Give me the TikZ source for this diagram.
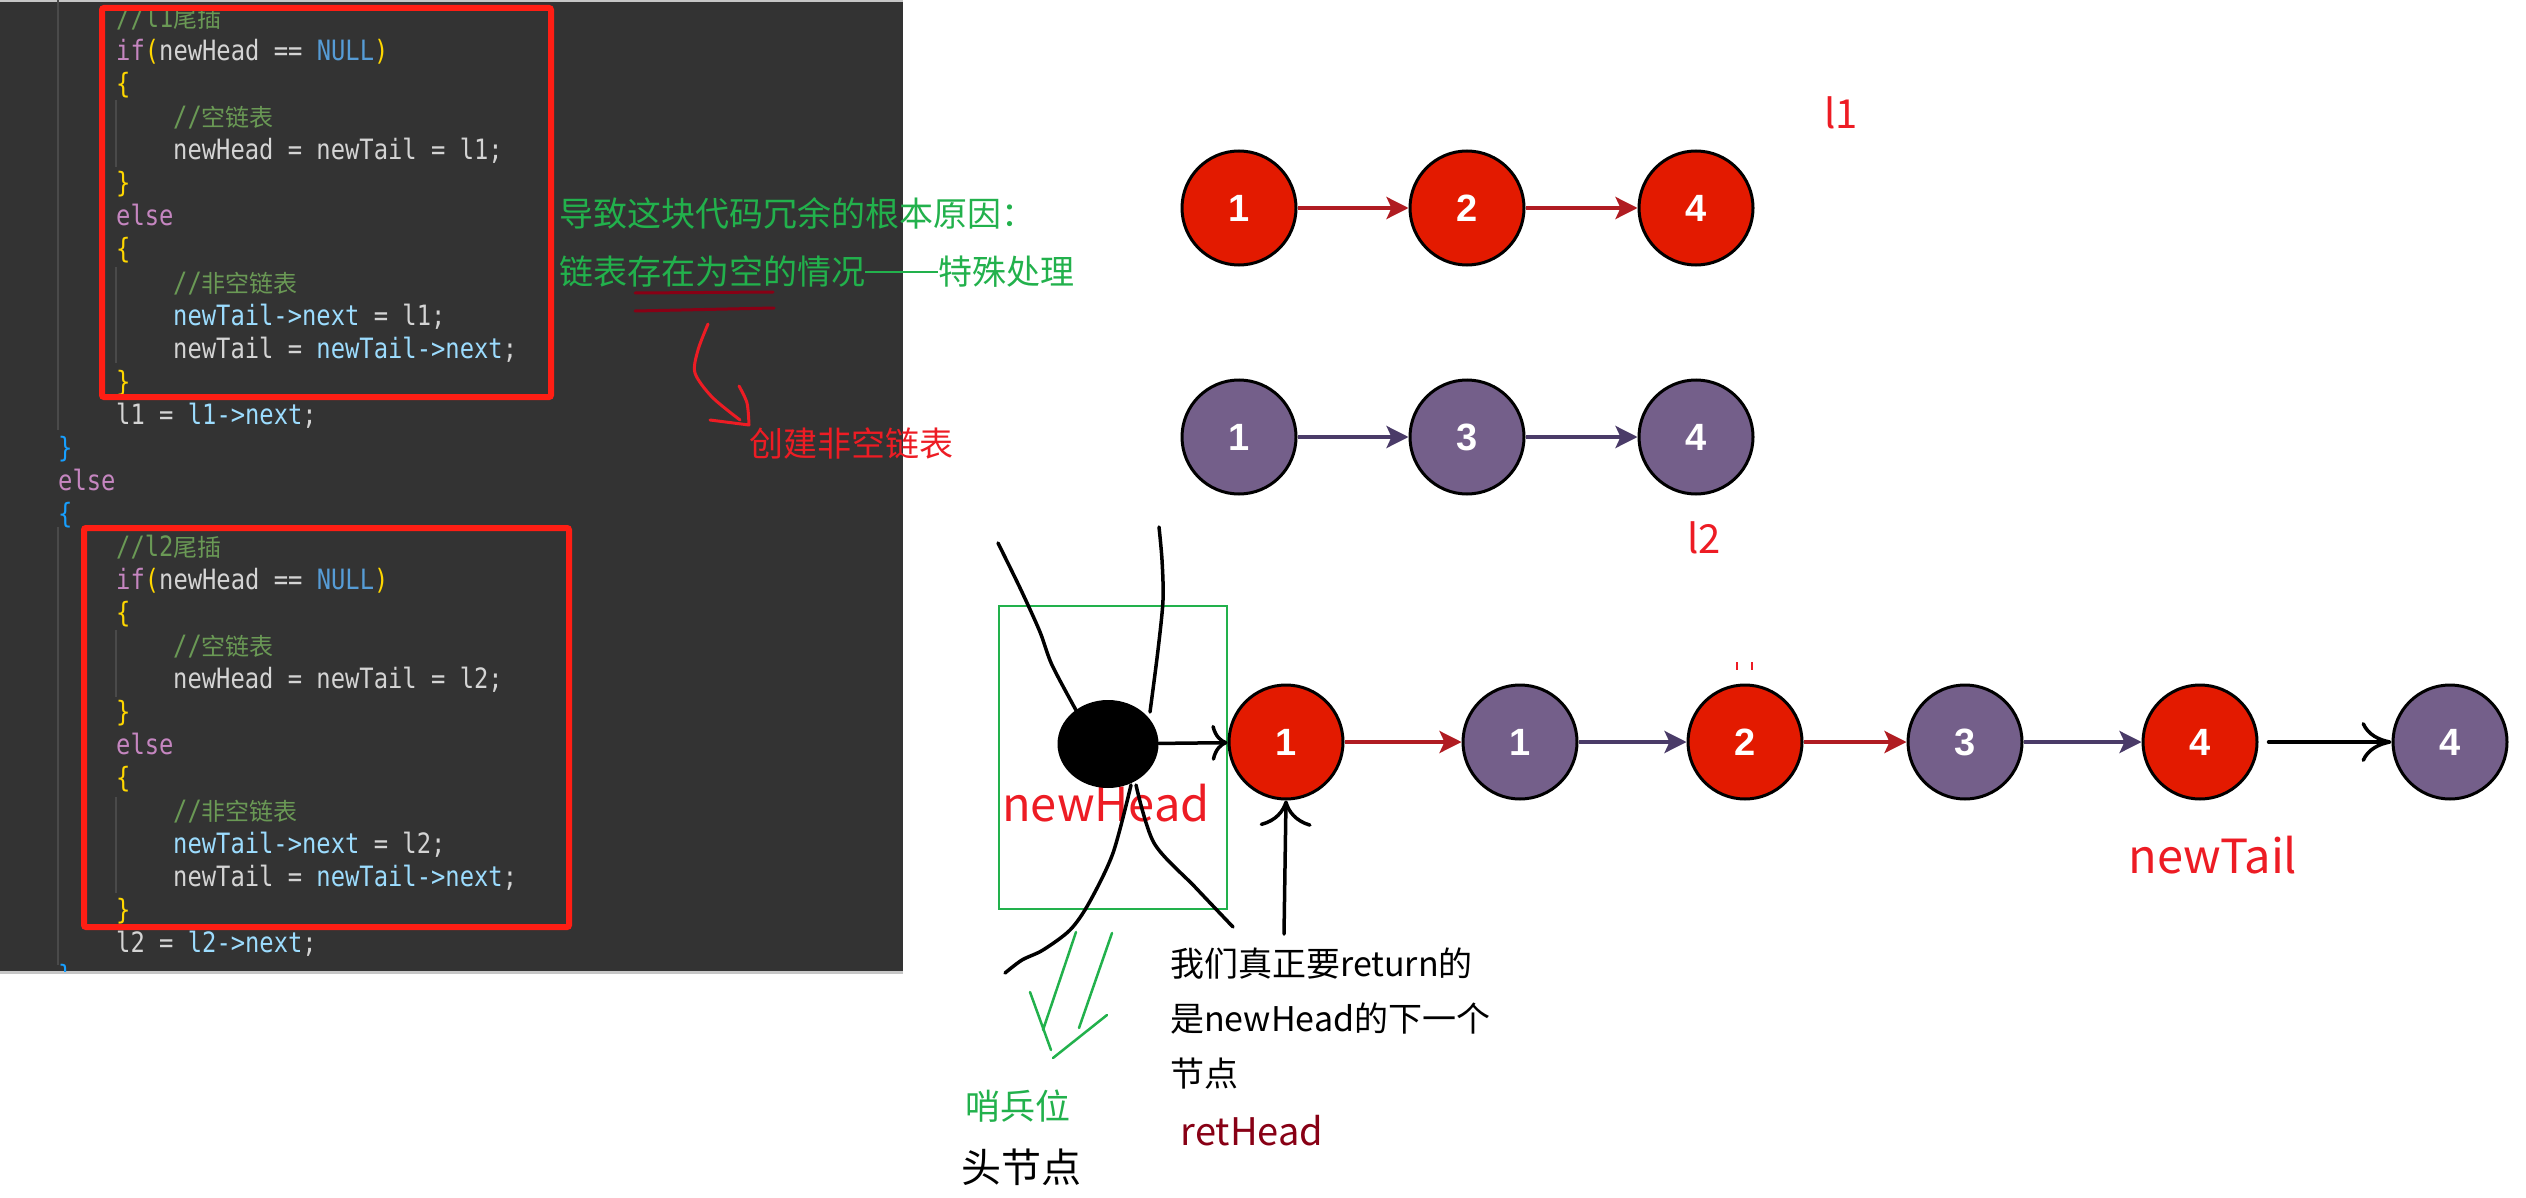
\documentclass[tikz,border=0pt]{standalone}
\usepackage{fontspec}
\setmainfont{Liberation Sans}
\newfontfamily\cjk{Noto Sans CJK SC}
\newfontfamily\codefont[FakeStretch=0.85]{DejaVu Sans Mono}
\newfontfamily\numfont{Liberation Sans}
\usetikzlibrary{arrows.meta, shapes.geometric, positioning}

\definecolor{codebg}{HTML}{333333}
\definecolor{codefg}{HTML}{D4D4D4}
\definecolor{codekw}{HTML}{C586C0}
\definecolor{codenull}{HTML}{569CD6}
\definecolor{codebr}{HTML}{FFD700}
\definecolor{codeouter}{HTML}{179FFF}
\definecolor{codecmt}{HTML}{6A9955}
\definecolor{codevar}{HTML}{9CDCFE}
\definecolor{codeguide}{HTML}{4A4A4A}
\definecolor{boxred}{HTML}{FF1E14}
\definecolor{nodered}{HTML}{E31A00}
\definecolor{nodepurple}{HTML}{745F8A}
\definecolor{linkred}{HTML}{B01C22}
\definecolor{linkpurple}{HTML}{4A3B68}
\definecolor{notegreen}{HTML}{22B14C}
\definecolor{notered}{HTML}{ED1C24}
\definecolor{darkred}{HTML}{880015}

% code colouring
\newcommand{\ckw}[1]{\textcolor{codekw}{#1}}
\newcommand{\cnull}[1]{\textcolor{codenull}{#1}}
\newcommand{\cbr}[1]{\textcolor{codebr}{#1}}
\newcommand{\couter}[1]{\textcolor{codeouter}{#1}}
\newcommand{\ccmt}[1]{\textcolor{codecmt}{#1}}
\newcommand{\cvar}[1]{\textcolor{codevar}{#1}}
\newcommand{\zh}[1]{{\cjk\fontsize{24pt}{24pt}\selectfont #1}}
\newcommand{\longdash}{\rule[0.36em]{2.15em}{2pt}}

\tikzstyle{code} = [anchor=base west, inner sep=0, text=codefg, font=\codefont\fontsize{28pt}{33pt}\selectfont]
\tikzstyle{rednode} = [circle, draw=black, line width=3pt, fill=nodered, minimum size=114pt, inner sep=0, text=white, font=\numfont\bfseries\fontsize{38pt}{38pt}\selectfont]
\tikzstyle{purnode} = [rednode, fill=nodepurple]
\tikzstyle{redlink} = [line width=3.5pt, draw=linkred, -{Stealth[length=22pt,width=22pt,inset=5pt]}]
\tikzstyle{purlink} = [redlink, draw=linkpurple]
\tikzstyle{handarrow} = [line width=3.5pt, black, line cap=round, -{To[length=16pt,width=36pt]}]
\tikzstyle{handline} = [line width=3.5pt, black, line cap=round]
\tikzstyle{note} = [inner sep=0, font=\cjk\fontsize{34pt}{40pt}\selectfont]

\begin{document}
\begin{tikzpicture}[x=1pt, y=-1pt, on grid]
\path[use as bounding box, fill=white] (0,0) rectangle (2526,1198);

% code panel
\fill[codebg] (0,0) rectangle (903,971);
\draw[gray!45, line width=2pt] (0,1) -- (903,1);
\draw[gray!45, line width=3pt] (0,972) -- (903,972);
\begin{scope}
\clip (0,0) rectangle (903,971);
\draw[codeguide, line width=1.5pt] (58,0) -- (58,430) (58,527) -- (58,965)
  (116,100) -- (116,167) (116,267) -- (116,363)
  (116,630) -- (116,697) (116,797) -- (116,893);
\node (c0) [code] at (116,28) {\ccmt{//l1\zh{尾插}}};
\node (c1) [code] at (116,61) {\ckw{if}\cbr{(}newHead == \cnull{NULL}\cbr{)}};
\node (c2) [code] at (116,94) {\cbr{\{}};
\node (c3) [code] at (173,127) {\ccmt{//\zh{空链表}}};
\node (c4) [code] at (173,160) {newHead = newTail = l1;};
\node (c5) [code] at (116,193) {\cbr{\}}};
\node (c6) [code] at (116,226) {\ckw{else}};
\node (c7) [code] at (116,259) {\cbr{\{}};
\node (c8) [code] at (173,292) {\ccmt{//\zh{非空链表}}};
\node (c9) [code] at (173,325) {\cvar{newTail->next} = l1;};
\node (c10) [code] at (173,358) {newTail = \cvar{newTail->next};};
\node (c11) [code] at (116,391) {\cbr{\}}};
\node (c12) [code] at (116,424) {l1 = \cvar{l1->next};};
\node (c13) [code] at (58,457) {\couter{\}}};
\node (c14) [code] at (58,490) {\ckw{else}};
\node (c15) [code] at (58,523) {\couter{\{}};
\node (c16) [code] at (116,556) {\ccmt{//l2\zh{尾插}}};
\node (c17) [code] at (116,589) {\ckw{if}\cbr{(}newHead == \cnull{NULL}\cbr{)}};
\node (c18) [code] at (116,622) {\cbr{\{}};
\node (c19) [code] at (173,655) {\ccmt{//\zh{空链表}}};
\node (c20) [code] at (173,688) {newHead = newTail = l2;};
\node (c21) [code] at (116,721) {\cbr{\}}};
\node (c22) [code] at (116,754) {\ckw{else}};
\node (c23) [code] at (116,787) {\cbr{\{}};
\node (c24) [code] at (173,820) {\ccmt{//\zh{非空链表}}};
\node (c25) [code] at (173,853) {\cvar{newTail->next} = l2;};
\node (c26) [code] at (173,886) {newTail = \cvar{newTail->next};};
\node (c27) [code] at (116,919) {\cbr{\}}};
\node (c28) [code] at (116,952) {l2 = \cvar{l2->next};};
\node (c29) [code] at (58,985) {\couter{\}}};
\end{scope}
\draw[boxred, line width=6pt, rounded corners=2pt] (102,8) rectangle (551,397);
\draw[boxred, line width=6pt, rounded corners=2pt] (84,528) rectangle (569,927);

% note on the code
\node (why1) [note, anchor=west, text=notegreen] at (559,213) {导致这块代码冗余的根本原因：};
\node (why2) [note, anchor=west, text=notegreen] at (559,272) {链表存在为空的情况\longdash 特殊处理};
\draw[darkred, line width=3pt, line cap=round] (635,293) -- (773,292) (635,311) -- (774,308);
\draw[notered, line width=3pt, line cap=round] plot[smooth] coordinates {(708,324) (698,350) (695,373) (712,397) (740,420)};
\draw[notered, line width=3pt, line cap=round, line join=round] plot[smooth] coordinates {(739,386) (747,403) (749,425)} -- (710,420);
\node (mk) [note, anchor=west, text=notered] at (749,443) {创建非空链表};

% l1 and l2
\node (a1) [rednode] at (1239,208) {1};
\node (a2) [rednode, right=228pt of a1] {2};
\node (a4) [rednode, right=229pt of a2] {4};
\node (b1) [purnode, below=229pt of a1] {1};
\node (b3) [purnode, right=228pt of b1] {3};
\node (b4) [purnode, right=229pt of b3] {4};
\draw [redlink] (a1) -- (a2);
\draw [redlink] (a2) -- (a4);
\draw [purlink] (b1) -- (b3);
\draw [purlink] (b3) -- (b4);
\node (l1) [note, text=notered, font=\cjk\fontsize{40pt}{40pt}\selectfont] at (1841,113) {l1};
\node (l2) [note, text=notered, font=\cjk\fontsize{40pt}{40pt}\selectfont] at (1704,538) {l2};

% merged list with sentinel
\draw[notegreen, line width=2pt] (999,606) rectangle (1227,909);
\node (nh) [note, text=notered, font=\cjk\fontsize{47pt}{47pt}\selectfont] at (1106,803) {newHead};
\node (head) [ellipse, fill=black, minimum width=101pt, minimum height=88pt, inner sep=0] at (1108,744) {};
\draw[handline] plot[smooth] coordinates {(998,543) (1021,590) (1040,632) (1052,665) (1077,712)};
\draw[handline] plot[smooth] coordinates {(1159,527) (1162,560) (1163,600) (1158,650) (1150,712)};
\draw[handline] plot[smooth] coordinates {(1131,785) (1113,853) (1089,903) (1070,930) (1043,950) (1022,960) (1005,973)};
\draw[handline] plot[smooth] coordinates {(1136,785) (1154,843) (1195,887) (1233,927)};

\node (m1) [rednode] at (1286,742) {1};
\node (m2) [purnode, right=234pt of m1] {1};
\node (m3) [rednode, right=225pt of m2] {2};
\node (m4) [purnode, right=220pt of m3] {3};
\node (m5) [rednode, right=235pt of m4] {4};
\node (m6) [purnode, right=250pt of m5] {4};
\draw [handarrow] (head) -- (m1);
\draw [redlink] (m1) -- (m2);
\draw [purlink] (m2) -- (m3);
\draw [redlink] (m3) -- (m4);
\draw [purlink] (m4) -- (m5);
\draw [handarrow, -{To[length=30pt,width=40pt]}, shorten <=10pt] (m5) -- (m6);
\draw[notered, line width=2pt] (1737,662) -- (1737,670) (1752,662) -- (1752,670);
\node (nt) [note, text=notered, font=\cjk\fontsize{47pt}{47pt}\selectfont] at (2213,855) {newTail};

% what is returned
\coordinate (retfoot) at (1284,934);
\draw [handarrow, -{To[length=26pt,width=52pt]}] (retfoot) -- (m1.south);
\node (ret) [note, anchor=north west, align=left, font=\cjk\fontsize{34pt}{55pt}\selectfont] at (1170,948) {我们真正要return的\\是newHead的下一个\\节点};
\node (rh) [note, text=darkred, font=\cjk\fontsize{38pt}{38pt}\selectfont] at (1252,1131) {retHead};

% sentinel
\draw[notegreen, line width=2.5pt, line cap=round] (1076,932) -- (1043,1030) (1112,933) -- (1079,1028)
  (1030,992) -- (1051,1050) (1107,1015) -- (1053,1058);
\node (sb) [note, text=notegreen, font=\cjk\fontsize{35pt}{35pt}\selectfont] at (1018,1106) {哨兵位};
\node (hn) [note, font=\cjk\fontsize{40pt}{40pt}\selectfont] at (1021,1167) {头节点};
\end{tikzpicture}
\end{document}
